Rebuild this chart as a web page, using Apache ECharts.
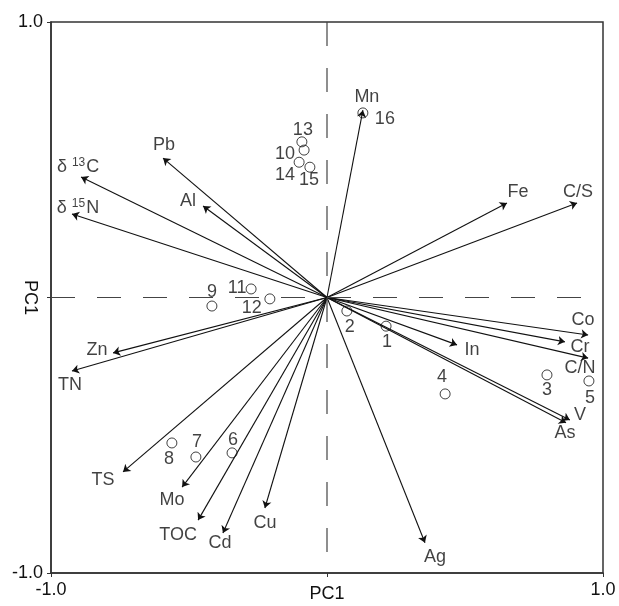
<!DOCTYPE html>
<html><head><meta charset="utf-8">
<script src="https://cdn.jsdelivr.net/npm/echarts@6/dist/echarts.min.js"></script>
<style>html,body{margin:0;padding:0;background:#fff}#c{width:619px;height:606px}</style>
</head><body><div id="c"></div>
<script>
// ---- data ----
const varNames = ['Mn','Pb','Al','δ13C','δ15N','Fe','C/S','Co','Cr','C/N','In','V','As','Zn','TN','TS','Mo','TOC','Cd','Cu','Ag'];
const varPC1 = [0.13,-0.594,-0.449,-0.891,-0.924,0.652,0.906,0.946,0.862,0.946,0.471,0.880,0.866,-0.775,-0.924,-0.739,-0.525,-0.467,-0.377,-0.225,0.355];
const varPC2 = [0.68,0.506,0.332,0.437,0.303,0.343,0.343,-0.136,-0.161,-0.22,-0.172,-0.445,-0.455,-0.201,-0.267,-0.633,-0.688,-0.808,-0.855,-0.764,-0.89];
const sampleNames = ['1','2','3','4','5','6','7','8','9','10','11','12','13','14','15','16'];
const samplePC1 = [0.214,0.072,0.797,0.428,0.949,-0.344,-0.475,-0.562,-0.417,-0.083,-0.275,-0.207,-0.091,-0.101,-0.062,0.13];
const samplePC2 = [-0.104,-0.049,-0.281,-0.35,-0.303,-0.564,-0.579,-0.528,-0.031,0.535,0.031,-0.005,0.565,0.491,0.473,0.67];
const tickValues = [-1, 0, 1];
const labelValues = [-1, 1];
const axisTitleX = 'PC1';
const axisTitleY = 'PC1';

// ---- label layout (pixel offsets, not data) ----
const varLabelOffset = [[4,-13],[1,-13],[-15,-5],[-3,-10],[6,-6],[11,-11],[1,-11],[-5,-15],[15,5],[-8,10],[15,5],[10,-5],[-1,10],[-16,-3],[-2,14],[-20,8],[-10,13],[-20,15],[-3,10],[0,15],[10,14]];
const sampleLabelOffset = [[1,16],[3,16],[0,15],[-3,-17],[1,17],[1,-13],[1,-15],[-3,16],[0,-14],[-19,4],[-14,-1],[-18,9],[1,-12],[-14,13],[-1,13],[22,6]];

const FONT = '"Liberation Sans", Arial, sans-serif';
const FS = 18;
const chart = echarts.init(document.getElementById('c'), null, {renderer:'canvas'});

function fmtName(n){
  if (n.charAt(0) === 'δ') {
    const m = n.match(/^δ(\d+)(.*)$/);
    return '{t|δ }{s|' + m[1] + '}{t|' + m[2] + '}';
  }
  return '{t|' + n + '}';
}
const richStyle = {
  t: {fontSize: FS, fontFamily: FONT, color: '#111', lineHeight: 20},
  s: {fontSize: 12, fontFamily: FONT, color: '#111', verticalAlign: 'top', lineHeight: 20, padding:[0,1,7,0]}
};

const arrowData = varNames.map((n,i)=>({coords:[[0,0],[varPC1[i],varPC2[i]]]}));
const varLabelData = varNames.map((n,i)=>({
  value:[varPC1[i],varPC2[i]], name:n,
  label:{offset:varLabelOffset[i]}
}));
const sampleData = sampleNames.map((n,i)=>({
  value:[samplePC1[i],samplePC2[i]], name:n,
  label:{offset:sampleLabelOffset[i]}
}));

const axisCommon = {
  type:'value', min:-1, max:1,
  splitLine:{show:false},
  axisLine:{onZero:false, lineStyle:{color:'#333', width:1.5}},
  axisTick:{show:true, length:4, customValues:tickValues, lineStyle:{color:'#333'}},
  axisLabel:{customValues:labelValues, formatter:v=>v.toFixed(1), fontSize:FS, fontFamily:FONT, color:'#111'},
  nameLocation:'middle',
  nameMoveOverlap:false,
  nameTextStyle:{fontSize:FS, fontFamily:FONT, color:'#111'}
};

const option = {
  animation:false,
  backgroundColor:'#fff',
  grid:{left:51, right:16, top:22, bottom:33, containLabel:false, outerBoundsMode:'none', show:true, borderColor:'#333', borderWidth:1.5},
  xAxis:Object.assign({}, axisCommon, {name:axisTitleX, nameGap:12, axisLabel:Object.assign({}, axisCommon.axisLabel, {margin:8})}),
  yAxis:Object.assign({}, axisCommon, {name:axisTitleY, nameGap:12, nameRotate:-90, axisLabel:Object.assign({}, axisCommon.axisLabel, {margin:8})}),
  series:[
    {
      type:'line', data:[[-1,0],[1,0]], symbol:'none', silent:true,
      lineStyle:{color:'#444', width:1.2, type:[24,22]}
    },
    {
      type:'line', data:[[0,1],[0,-1]], symbol:'none', silent:true,
      lineStyle:{color:'#444', width:1.2, type:[24,22]}
    },
    {
      type:'lines', coordinateSystem:'cartesian2d', data:arrowData,
      symbol:['none','arrow'], symbolSize:7,
      lineStyle:{color:'#111', width:1.1, opacity:1}
    },
    {
      type:'scatter', data:varLabelData, symbolSize:0, silent:true,
      label:{show:true, position:'inside', formatter:p=>fmtName(p.name), rich:richStyle}
    },
    {
      type:'scatter', data:sampleData, symbol:'circle', symbolSize:10,
      itemStyle:{color:'rgba(255,255,255,0)', borderColor:'#111', borderWidth:1},
      label:{show:true, position:'inside', formatter:p=>p.name, fontSize:FS, fontFamily:FONT, color:'#111'}
    }
  ]
};
chart.setOption(option);
</script>
</body></html>
